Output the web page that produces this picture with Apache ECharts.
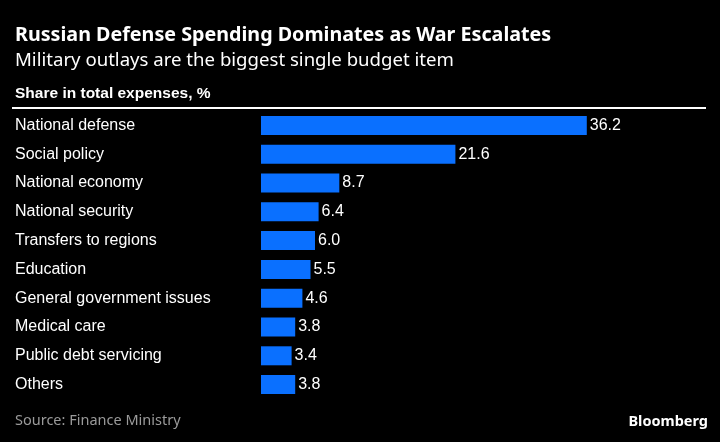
<!DOCTYPE html>
<html><head><meta charset="utf-8">
<script src="https://cdn.jsdelivr.net/npm/echarts@6/dist/echarts.min.js"></script>
<style>html,body{margin:0;padding:0;background:#000;}#c{width:720px;height:442px;}</style>
</head><body><div id="c"></div>
<script>
const categories = ["National defense","Social policy","National economy","National security","Transfers to regions","Education","General government issues","Medical care","Public debt servicing","Others"];
const values = [36.2,21.6,8.7,6.4,6.0,5.5,4.6,3.8,3.4,3.8];

const chart = echarts.init(document.getElementById('c'));
chart.setOption({
  backgroundColor:'#000',
  animation:false,
  title:[
    {text:'Russian Defense Spending Dominates as War Escalates',left:15,top:25,padding:0,textStyle:{color:'#fff',fontSize:19.7,fontWeight:'bold',fontFamily:'Noto Sans'}},
    {text:'Military outlays are the biggest single budget item',left:15,top:51,padding:0,textStyle:{color:'#fff',fontSize:18.6,fontWeight:'normal',fontFamily:'Noto Sans'}},
    {text:'Share in total expenses, %',left:15,top:86,padding:0,textStyle:{color:'#fff',fontSize:15.5,fontWeight:'bold',fontFamily:'Liberation Sans'}},
    {text:'Source: Finance Ministry',left:15,top:413,padding:0,textStyle:{color:'#9a9a9a',fontSize:14.5,fontWeight:'normal',fontFamily:'Noto Sans'}},
    {text:'Bloomberg',right:12,top:414,padding:0,textStyle:{color:'#fff',fontSize:14.5,fontWeight:'bold',fontFamily:'Noto Sans'}}
  ],
  graphic:[{type:'line',shape:{x1:12,y1:108,x2:706,y2:108},style:{stroke:'#fff',lineWidth:2}}],
  grid:{left:261,top:111,height:288,width:360},
  xAxis:{type:'value',min:0,max:40,show:false},
  yAxis:{type:'category',data:categories,inverse:true,
    axisLine:{show:false},axisTick:{show:false},
    axisLabel:{align:'left',margin:246,color:'#fff',fontSize:16,fontFamily:'Liberation Sans',verticalAlign:'middle',padding:[0,0,2,0]}},
  series:[{type:'bar',data:values,barWidth:19,
    itemStyle:{color:'#0a70ff'},
    label:{show:true,position:'right',distance:3,color:'#fff',fontSize:16,fontFamily:'Liberation Sans',formatter:p=>p.value.toFixed(1)}}]
});
</script></body></html>
